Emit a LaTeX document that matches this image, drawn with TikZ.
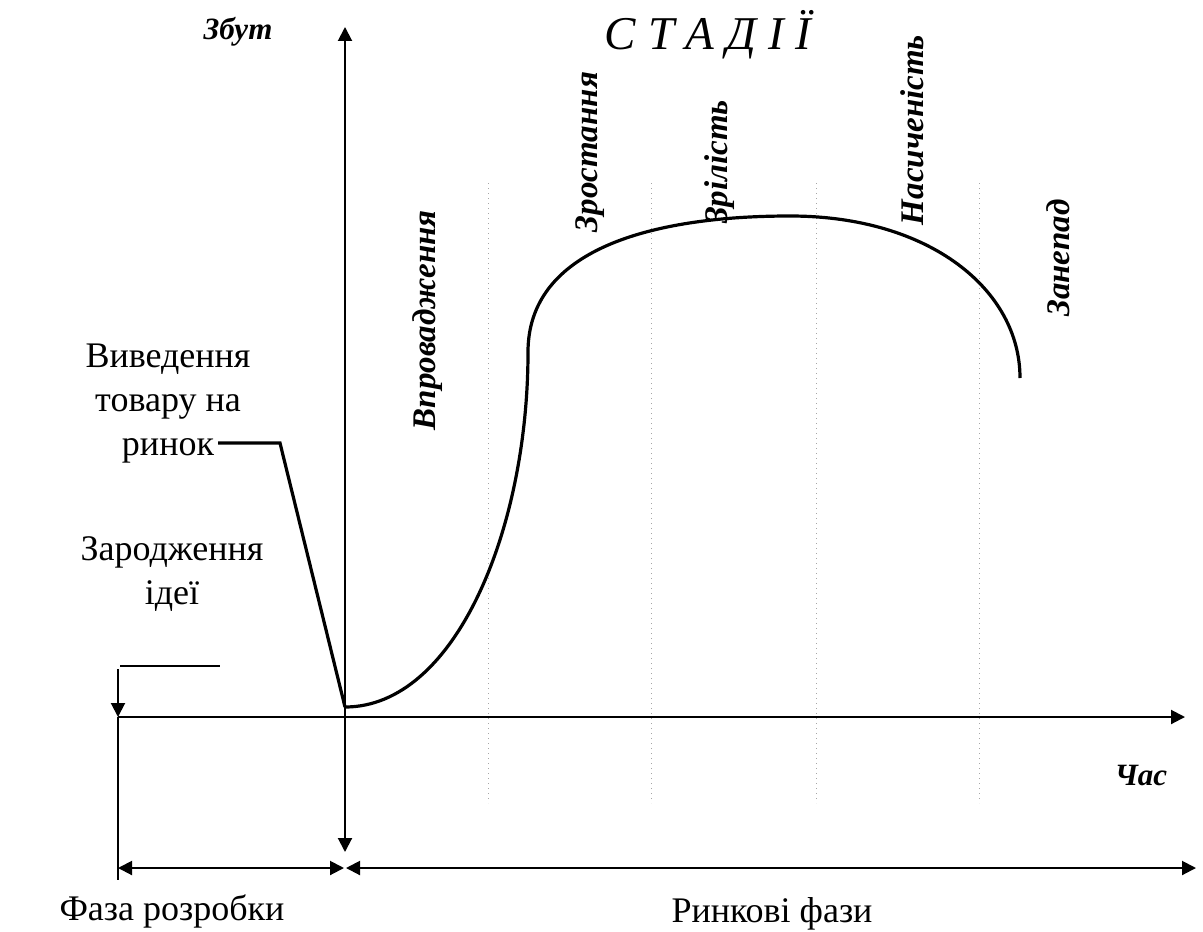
\documentclass[tikz,border=0pt]{standalone}
\usepackage{fontspec}
\setmainfont{Liberation Serif}
\usepackage{tikz}
\usetikzlibrary{arrows.meta,positioning,calc}

\begin{document}
\begin{tikzpicture}[
    x=0.5pt, y=-0.5pt,
    axis/.style={line width=1pt, -{Triangle[length=7pt,width=7pt]}},
    dimline/.style={line width=1pt, {Triangle[length=7pt,width=7pt]}-{Triangle[length=7pt,width=7pt]}},
    lifecurve/.style={line width=1.6pt},
    stagesep/.style={gray!70, dotted, line width=0.5pt},
    stagelabel/.style={rotate=90, font=\fontsize{16.5}{19}\selectfont\bfseries\itshape},
    axislabel/.style={font=\fontsize{15.5}{18}\selectfont\bfseries\itshape},
    plaintext/.style={font=\fontsize{18}{22}\selectfont, align=center},
  ]
  \useasboundingbox (0,0) rectangle (1203,931);

  % axes
  \coordinate (orig) at (345,717);
  \coordinate (idea) at (118,717);
  \coordinate (xend) at (1185,717);
  \coordinate (ytop) at (345,27);
  \coordinate (ybot) at (345,852);
  \draw[line width=1pt] (idea) -- (orig);
  \draw[axis] (orig) -- (xend);
  \draw[line width=1pt, {Triangle[length=7pt,width=7pt]}-{Triangle[length=7pt,width=7pt]}] (ybot) -- (ytop);

  \node[axislabel] (sales) at (238,32) {Збут};
  \node[axislabel] (time) at (1141,775) {Час};
  \node[font=\fontsize{23.5}{27}\selectfont\itshape] (stages) at (708,35) {С Т А Д І Ї};

  % stage borders
  \foreach \sx in {488,651,816,979}
    \draw[stagesep] (\sx,183) -- (\sx,803);

  % stage names
  \node[stagelabel] (intro) at (428,320) {Впровадження};
  \node[stagelabel] (growth) at (590,152) {Зростання};
  \node[stagelabel] (mature) at (720,162) {Зрілість};
  \node[stagelabel] (satur) at (912,130) {Насиченість};
  \node[stagelabel] (decline) at (1058,258) {Занепад};

  % life curve
  \coordinate (c0) at (345,707);
  \coordinate (c1) at (528,352);
  \coordinate (c2) at (790,216);
  \coordinate (c3) at (1020,378);
  \draw[lifecurve] (c0) .. controls (455,707) and (528,530) .. (c1)
    .. controls (528,250) and (650,216) .. (c2)
    .. controls (930,216) and (1020,290) .. (c3);

  % market launch
  \coordinate (launchL) at (218,443);
  \coordinate (launchR) at (280,443);
  \draw[lifecurve] (launchL) -- (launchR) -- (c0);
  \node[plaintext] (launch) at (168,404) {Виведення\\товару на\\ринок};

  % birth of idea
  \coordinate (ideaTop) at (118,669);
  \coordinate (ideaEnd) at (220,666);
  \draw[line width=1pt] (ideaTop |- ideaEnd) ++(2,0) -- (ideaEnd);
  \draw[axis] (ideaTop) -- (idea);
  \coordinate (ideaBot) at (118,880);
  \draw[line width=1pt] (idea) -- (ideaBot);
  \node[plaintext] (birth) at (172,574) {Зародження\\ідеї};

  % phases
  \coordinate (devL) at (118,868);
  \coordinate (devR) at (344,868);
  \coordinate (mktL) at (346,868);
  \coordinate (mktR) at (1196,868);
  \draw[dimline] (devL) -- (devR);
  \draw[dimline] (mktL) -- (mktR);
  \node[plaintext] (devphase) at (172,911) {Фаза розробки};
  \node[plaintext] (mktphase) at (772,914) {Ринкові фази};
\end{tikzpicture}
\end{document}
